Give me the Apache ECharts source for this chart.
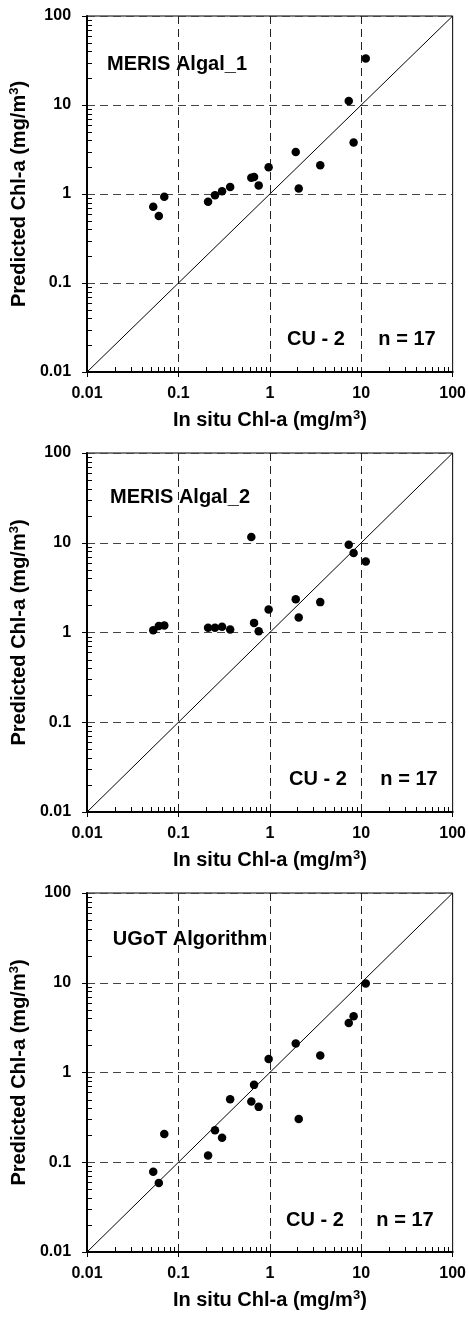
<!DOCTYPE html>
<html>
<head>
<meta charset="utf-8">
<script src="https://cdn.jsdelivr.net/npm/echarts@6/dist/echarts.min.js"></script>
<style>
  html, body { margin: 0; padding: 0; background: #fff; }
  #chart { width: 469px; height: 1319px; }
</style>
</head>
<body>
<div id="chart"></div>
<script>
// in situ Chl-a, same stations in every panel (mg/m3)
const inSitu = [0.053, 0.061, 0.070, 0.211, 0.251, 0.300, 0.368, 0.627, 0.672, 0.755, 0.97, 1.92, 2.07, 3.56, 7.30, 8.25, 11.2]
// predicted Chl-a per algorithm
const algal1 = [0.718, 0.567, 0.93, 0.817, 0.97, 1.076, 1.2, 1.52, 1.55, 1.25, 2.0, 2.96, 1.15, 2.1, 11.1, 3.8, 33.4]
const algal2 = [1.06, 1.18, 1.2, 1.13, 1.13, 1.16, 1.08, 11.6, 1.28, 1.03, 1.80, 2.35, 1.47, 2.18, 9.48, 7.71, 6.17]
const ugot = [0.0785, 0.0587, 0.2065, 0.1186, 0.2275, 0.188, 0.503, 0.474, 0.728, 0.414, 1.41, 2.10, 0.304, 1.55, 3.57, 4.24, 9.8]
const oneToOne = [[0.01, 0.01], [100, 100]]
const panelNames = ['MERIS Algal_1', 'MERIS Algal_2', 'UGoT Algorithm']
const statLabels = ['CU - 2', 'n = 17']
const axisRange = [0.01, 100]
// minor (inward) tick values on both log axes
const minorTicks = [
  0.02, 0.03, 0.04, 0.05, 0.06, 0.07, 0.08, 0.09,
  0.2, 0.3, 0.4, 0.5, 0.6, 0.7, 0.8, 0.9,
  2, 3, 4, 5, 6, 7, 8, 9,
  20, 30, 40, 50, 60, 70, 80, 90
]

const FONT = '"Liberation Sans", Arial, sans-serif'
const TICK_LEN = 5

const panels = [
  { left: 82, top: 16, width: 371, height: 356, values: algal1, titleX: 177, titleY: 64, statY: 339, cuX: 316, nX: 407 },
  { left: 81, top: 453, width: 373, height: 359, values: algal2, titleX: 180, titleY: 497, statY: 779, cuX: 318, nX: 409 },
  { left: 80, top: 893, width: 373, height: 359, values: ugot, titleX: 190, titleY: 939, statY: 1220, cuX: 315, nX: 405 }
]

const nameRich = {
  t: { fontSize: 20, fontWeight: 'bold', fontFamily: FONT, color: '#000', lineHeight: 22 },
  s: { fontSize: 13, fontWeight: 'bold', fontFamily: FONT, color: '#000', lineHeight: 13, verticalAlign: 'top' }
}
const labelStyle = { fontSize: 16, fontWeight: 'bold', fontFamily: FONT, color: '#000' }

function mainAxis (i, dim) {
  const isX = dim === 'x'
  return {
    type: 'log',
    logBase: 10,
    gridIndex: i,
    position: isX ? 'bottom' : 'left',
    min: axisRange[0],
    max: axisRange[1],
    name: isX ? '{t|In situ Chl-a (mg/m}{s|3}{t|)}' : '{t|Predicted Chl-a (mg/m}{s|3}{t|)}',
    nameLocation: 'middle',
    nameGap: isX ? 37 : 44,
    nameTextStyle: { rich: nameRich },
    axisLine: { show: true, onZero: false, lineStyle: { color: '#000', width: 2 } },
    axisTick: { show: true, inside: false, length: 5, lineStyle: { color: '#000', width: 1 } },
    axisLabel: Object.assign({ margin: isX ? 14 : 16 }, labelStyle),
    splitLine: {
      show: true,
      lineStyle: { color: isX ? '#222' : '#444', width: 1, type: [8, 5] }
    }
  }
}

const grid = panels.map(p => ({
  left: p.left,
  top: p.top,
  width: p.width,
  height: p.height,
  show: true,
  borderColor: '#000',
  borderWidth: 1,
  backgroundColor: 'transparent'
}))

const xAxis = panels.map((p, i) => mainAxis(i, 'x'))
const yAxis = panels.map((p, i) => mainAxis(i, 'y'))

// short inward tick at each minor value, placed through the axis scales
function minorTickSeries (i, dim) {
  const isX = dim === 'x'
  return {
    type: 'custom',
    xAxisIndex: i,
    yAxisIndex: i,
    silent: true,
    clip: false,
    z: 5,
    data: minorTicks.map(v => isX ? [v, axisRange[0]] : [axisRange[0], v]),
    renderItem: function (params, api) {
      const pt = api.coord([api.value(0), api.value(1)])
      if (isX) {
        const x = Math.round(pt[0]) + 0.5
        return { type: 'line', shape: { x1: x, y1: pt[1], x2: x, y2: pt[1] - TICK_LEN }, style: { stroke: '#000', lineWidth: 1 } }
      }
      const y = Math.round(pt[1]) + 0.5
      return { type: 'line', shape: { x1: pt[0], y1: y, x2: pt[0] + TICK_LEN, y2: y }, style: { stroke: '#000', lineWidth: 1 } }
    }
  }
}

const series = []
panels.forEach((p, i) => {
  series.push({
    type: 'line',
    xAxisIndex: i,
    yAxisIndex: i,
    data: oneToOne,
    symbol: 'none',
    silent: true,
    lineStyle: { color: '#000', width: 1 },
    z: 3
  })
  series.push({
    type: 'scatter',
    xAxisIndex: i,
    yAxisIndex: i,
    data: inSitu.map((x, k) => [x, p.values[k]]),
    symbol: 'circle',
    symbolSize: 8.5,
    itemStyle: { color: '#000', opacity: 1 },
    z: 4
  })
  series.push(minorTickSeries(i, 'x'))
  series.push(minorTickSeries(i, 'y'))
})

const graphic = []
panels.forEach((p, i) => {
  const font = 'bold 20px ' + FONT
  graphic.push({ type: 'text', x: p.titleX, y: p.titleY, style: { text: panelNames[i], font: font, fill: '#000', align: 'center', verticalAlign: 'middle' } })
  graphic.push({ type: 'text', x: p.cuX, y: p.statY, style: { text: statLabels[0], font: font, fill: '#000', align: 'center', verticalAlign: 'middle' } })
  graphic.push({ type: 'text', x: p.nX, y: p.statY, style: { text: statLabels[1], font: font, fill: '#000', align: 'center', verticalAlign: 'middle' } })
})

const myChart = echarts.init(document.getElementById('chart'), null, { renderer: 'canvas' })
const option = {
  backgroundColor: '#fff',
  animation: false,
  grid: grid,
  xAxis: xAxis,
  yAxis: yAxis,
  series: series,
  graphic: graphic
}
option && myChart.setOption(option)
</script>
</body>
</html>
